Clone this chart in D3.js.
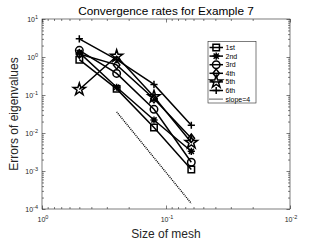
<!DOCTYPE html>
<html>
<head>
<meta charset="utf-8">
<script src="https://cdn.jsdelivr.net/npm/d3@7"></script>
<style>
  body { margin: 0; background: #fff; }
  svg { display: block; font-family: "Liberation Sans", Arial, sans-serif; }
</style>
</head>
<body>
<div id="chart"></div>
<script>
// mesh sizes and eigenvalue errors
var meshSize = [1/2, 1/4, 1/8, 1/16];
var err1st = [0.85, 0.145, 0.014, 0.0011];
var err2nd = [1.3, 0.16, 0.022, 0.0033];
var err3rd = [1.5, 0.37, 0.042, 0.0017];
var err4th = [1.2, 0.62, 0.08, 0.0073];
var err5th = [0.14, 1.05, 0.09, 0.0056];
var err6th = [3.0, 0.85, 0.19, 0.016];
var seriesNames = ["1st", "2nd", "3rd", "4th", "5th", "6th"];
var seriesMarkers = ["square", "asterisk", "circle", "diamond", "star", "plus"];

// reference line of slope 4
var slopeX = [1/4, 1/16];
var slopeY = [0.036, 0.00014];

var xTickExp = [0, -1, -2];
var yTickExp = [1, 0, -1, -2, -3, -4];

var W = 321, H = 243;
// plot box (note: "top" clashes with window.top, so prefixed names)
var pLeft = 42, pRight = 290, pTop = 19, pBottom = 209;
var ink = "#262626";

var svg = d3.select("#chart").append("svg")
  .attr("width", W).attr("height", H);

var x = d3.scaleLog().domain([1, 0.01]).range([pLeft, pRight]);
var y = d3.scaleLog().domain([1e-4, 10]).range([pBottom, pTop]);

// minor ticks 2..9 in every decade
var minor = function(lo, hi){
  var out = [];
  for (var e = lo; e < hi; e++)
    for (var k = 2; k <= 9; k++) out.push(k * Math.pow(10, e));
  return out;
};
var xMajor = xTickExp.map(function(e){ return Math.pow(10, e); });
var yMajor = yTickExp.map(function(e){ return Math.pow(10, e); });
var xMinor = minor(-2, 0);
var yMinor = minor(-4, 1);

var axisStyle = function(g){
  g.select(".domain").remove();
  g.selectAll("line").attr("stroke", ink).attr("stroke-width", 0.6);
  g.selectAll("text").remove();
};

// ticks pointing inward on all four sides
svg.append("g").attr("transform", "translate(0," + pBottom + ")")
  .call(d3.axisBottom(x).tickValues(xMajor).tickSize(-3.5)).call(axisStyle);
svg.append("g").attr("transform", "translate(0," + pBottom + ")")
  .call(d3.axisBottom(x).tickValues(xMinor).tickSize(-2)).call(axisStyle);
svg.append("g").attr("transform", "translate(0," + pTop + ")")
  .call(d3.axisTop(x).tickValues(xMajor).tickSize(-3.5)).call(axisStyle);
svg.append("g").attr("transform", "translate(0," + pTop + ")")
  .call(d3.axisTop(x).tickValues(xMinor).tickSize(-2)).call(axisStyle);
svg.append("g").attr("transform", "translate(" + pLeft + ",0)")
  .call(d3.axisLeft(y).tickValues(yMajor).tickSize(-3.5)).call(axisStyle);
svg.append("g").attr("transform", "translate(" + pLeft + ",0)")
  .call(d3.axisLeft(y).tickValues(yMinor).tickSize(-2)).call(axisStyle);
svg.append("g").attr("transform", "translate(" + pRight + ",0)")
  .call(d3.axisRight(y).tickValues(yMajor).tickSize(-3.5)).call(axisStyle);
svg.append("g").attr("transform", "translate(" + pRight + ",0)")
  .call(d3.axisRight(y).tickValues(yMinor).tickSize(-2)).call(axisStyle);

svg.append("rect")
  .attr("x", pLeft).attr("y", pTop)
  .attr("width", pRight - pLeft).attr("height", pBottom - pTop)
  .attr("fill", "none").attr("stroke", ink).attr("stroke-width", 0.6);

// tick labels with superscript exponents
var powLabel = function(sel, e){
  sel.append("tspan").text("10");
  sel.append("tspan").attr("dy", -3).attr("font-size", 5.5).text(e);
};
xTickExp.forEach(function(e){
  var t = svg.append("text")
    .attr("x", x(Math.pow(10, e)) + 1).attr("y", 222)
    .attr("text-anchor", "middle").attr("font-size", 7).attr("fill", ink);
  powLabel(t, e);
});
yTickExp.forEach(function(e){
  var t = svg.append("text")
    .attr("x", pLeft - 4).attr("y", y(Math.pow(10, e)) + 2.5)
    .attr("text-anchor", "end").attr("font-size", 7).attr("fill", ink);
  powLabel(t, e);
});

// titles
svg.append("text").attr("x", 166).attr("y", 14.5)
  .attr("text-anchor", "middle").attr("font-size", 11.8).attr("fill", "#000")
  .text("Convergence rates for Example 7");
svg.append("text").attr("x", 166).attr("y", 237.5)
  .attr("text-anchor", "middle").attr("font-size", 12).attr("fill", ink)
  .text("Size of mesh");
svg.append("text")
  .attr("transform", "translate(18," + 114 + ") rotate(-90)")
  .attr("text-anchor", "middle").attr("font-size", 12).attr("fill", ink)
  .text("Errors of eigenvalues");

// marker shapes, centred on 0,0
var markerPath = function(kind){
  var r = 3.6;
  switch (kind) {
    case "square": return d3.symbol(d3.symbolSquare, 42)();
    case "circle": return d3.symbol(d3.symbolCircle, 44)();
    case "diamond": return "M0,-4.2L3.2,0L0,4.2L-3.2,0Z";
    case "star": return d3.symbol(d3.symbolStar, 46)();
    case "plus": return "M-" + r + ",0H" + r + "M0,-" + r + "V" + r;
    case "asterisk":
      var d = r * 0.72;
      return "M-" + r + ",0H" + r + "M0,-" + r + "V" + r +
        "M-" + d + ",-" + d + "L" + d + "," + d + "M-" + d + "," + d + "L" + d + ",-" + d;
  }
};

var line = d3.line()
  .x(function(d){ return x(d[0]); })
  .y(function(d){ return y(d[1]); });

var allErr = [err1st, err2nd, err3rd, err4th, err5th, err6th];
var plot = svg.append("g");

allErr.forEach(function(vals, i){
  var pts = meshSize.map(function(h, j){ return [h, vals[j]]; });
  plot.append("path").attr("d", line(pts))
    .attr("fill", "none").attr("stroke", "#000").attr("stroke-width", 1.5);
  plot.selectAll(null).data(pts).enter().append("path")
    .attr("transform", function(d){ return "translate(" + x(d[0]) + "," + y(d[1]) + ")"; })
    .attr("d", markerPath(seriesMarkers[i]))
    .attr("fill", "none").attr("stroke", "#000").attr("stroke-width", 1.5);
});

plot.append("path")
  .attr("d", line(slopeX.map(function(h, j){ return [h, slopeY[j]]; })))
  .attr("fill", "none").attr("stroke", "#000").attr("stroke-width", 1.4)
  .attr("stroke-dasharray", "1,1");

// legend
var lg = svg.append("g");
lg.append("rect").attr("x", 208).attr("y", 41.5).attr("width", 48).attr("height", 61.5)
  .attr("fill", "#fff").attr("stroke", ink).attr("stroke-width", 0.6);
var rowY = function(i){ return 47.5 + i * 8.6; };
seriesNames.forEach(function(name, i){
  lg.append("line").attr("x1", 209.5).attr("x2", 223).attr("y1", rowY(i)).attr("y2", rowY(i))
    .attr("stroke", "#000").attr("stroke-width", 1.5);
  lg.append("path").attr("transform", "translate(216.2," + rowY(i) + ")")
    .attr("d", markerPath(seriesMarkers[i]))
    .attr("fill", "none").attr("stroke", "#000").attr("stroke-width", 1.5);
  lg.append("text").attr("x", 225.5).attr("y", rowY(i) + 2.5)
    .attr("font-size", 7).attr("fill", "#000").text(name);
});
lg.append("line").attr("x1", 209.5).attr("x2", 223).attr("y1", rowY(6)).attr("y2", rowY(6))
  .attr("stroke", "#000").attr("stroke-width", 1.4).attr("stroke-dasharray", "1,1");
lg.append("text").attr("x", 225.5).attr("y", rowY(6) + 2.5)
  .attr("font-size", 7).attr("fill", "#000").text("slope=4");
</script>
</body>
</html>
